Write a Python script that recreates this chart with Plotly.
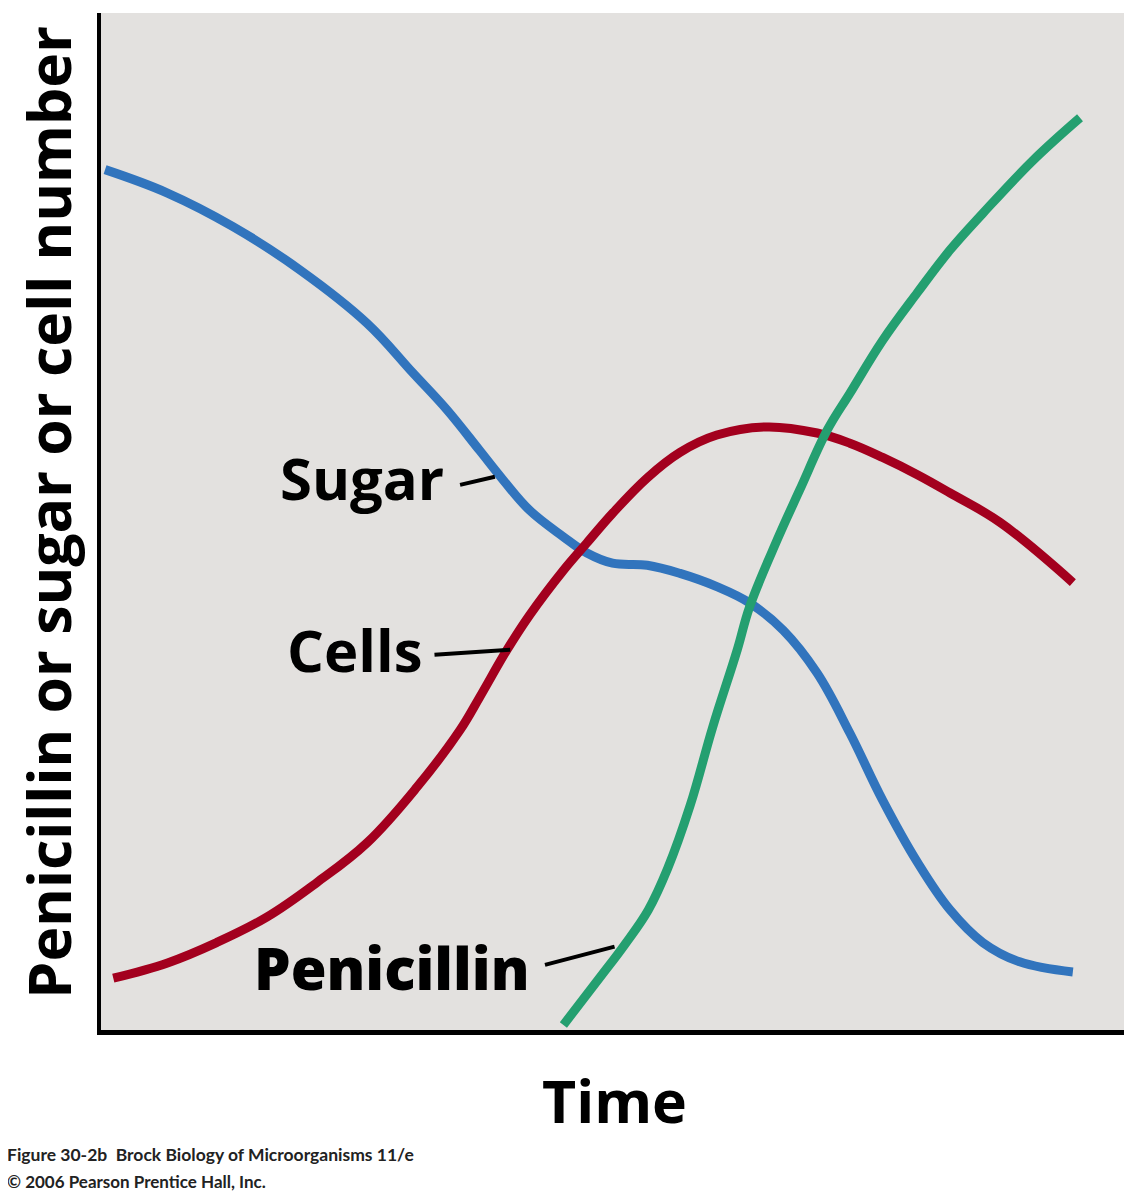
import plotly.graph_objects as go

# values (time and amount on 0-100 relative scales)
sugar_time = [0.4, 6.5, 12.9, 19.5, 26.0, 30.5, 33.8, 37.0, 39.3, 41.9, 45.2, 47.5, 50.0,
              53.4, 56.6, 60.2, 63.4, 66.7, 70.0, 73.2, 76.4, 79.8, 83.0, 86.2, 89.8, 95.0]
sugar_amount = [84.6, 82.3, 79.0, 74.7, 69.5, 64.6, 61.0, 57.0, 54.1, 51.1, 48.5, 46.9, 45.9,
                45.7, 44.9, 43.6, 42.0, 39.3, 35.1, 29.2, 22.6, 16.5, 11.8, 8.6, 6.7, 5.7]

cells_time = [1.2, 6.5, 11.3, 16.2, 21.1, 26.0, 30.9, 35.1, 37.0, 39.7, 41.9, 45.2, 47.5,
              50.0, 53.4, 56.6, 60.2, 65.1, 70.0, 73.2, 76.4, 79.8, 83.0, 87.9, 95.0]
cells_amount = [5.1, 6.6, 8.6, 11.1, 14.5, 18.4, 23.9, 29.5, 32.7, 37.4, 40.8, 45.2, 47.9,
                50.8, 54.3, 56.8, 58.5, 59.3, 58.7, 57.7, 56.3, 54.6, 52.8, 49.9, 44.0]

penicillin_time = [45.2, 48.8, 51.2, 53.5, 55.4, 57.6, 59.8, 62.2, 63.4, 66.1, 68.3,
                   71.0, 73.2, 76.4, 79.8, 83.0, 86.2, 91.1, 95.7]
penicillin_amount = [0.5, 5.2, 8.4, 11.8, 15.9, 22.1, 29.8, 37.4, 41.6, 48.2, 53.1,
                     59.0, 62.6, 67.8, 72.5, 76.7, 80.3, 85.5, 89.7]

# curve labels: text, label centre, leader line start/end
label_names = ["Sugar", "Cells", "Penicillin"]
label_pos = [(25.5, 54.3), (24.8, 37.4), (28.4, 6.1)]
leader_from = [(35.1, 53.6), (32.6, 36.9), (43.4, 6.4)]
leader_to = [(38.5, 54.4), (40.0, 37.4), (50.2, 8.2)]

BG = "#e3e1df"
BLUE = "#3174bd"
RED = "#a3001e"
GREEN = "#249f70"
FONT = "Open Sans"

fig = go.Figure()
for xs, ys, color, name in [
    (sugar_time, sugar_amount, BLUE, "Sugar"),
    (cells_time, cells_amount, RED, "Cells"),
    (penicillin_time, penicillin_amount, GREEN, "Penicillin"),
]:
    fig.add_trace(go.Scatter(
        x=xs, y=ys, mode="lines", name=name,
        line=dict(color=color, width=9, shape="spline", smoothing=1.1),
        hoverinfo="skip",
    ))

for name, (lx, ly), (x0, y0), (x1, y1) in zip(label_names, label_pos, leader_from, leader_to):
    fig.add_shape(type="line", x0=x0, y0=y0, x1=x1, y1=y1,
                  line=dict(color="black", width=4))
    fig.add_annotation(
        x=lx, y=ly, text=name, showarrow=False, xanchor="center", yanchor="middle",
        font=dict(family=FONT, size=58, color="black",
                  weight=800 if name == "Penicillin" else 700),
    )

# axis titles and credit line, placed in paper units around the plot area
fig.add_annotation(
    xref="paper", yref="paper", x=-0.0515, y=0.509, xanchor="center", yanchor="middle",
    text="Penicillin or sugar or cell number", textangle=-90, showarrow=False,
    font=dict(family=FONT, size=59, color="black", weight=700),
)
fig.add_annotation(
    xref="paper", yref="paper", x=0.502, y=-0.069, xanchor="center", yanchor="middle",
    text="Time", showarrow=False,
    font=dict(family=FONT, size=59, color="black", weight=700),
)
fig.add_annotation(
    xref="paper", yref="paper", x=-0.094, y=-0.1229, xanchor="left", yanchor="middle",
    text="<b>Figure 30-2b  Brock Biology of Microorganisms 11/e</b>", showarrow=False,
    font=dict(family="Lato", size=17.5, color="#222"),
)
fig.add_annotation(
    xref="paper", yref="paper", x=-0.094, y=-0.1485, xanchor="left", yanchor="middle",
    text="<b>© 2006 Pearson Prentice Hall, Inc.</b>", showarrow=False,
    font=dict(family="Lato", size=17, color="#222"),
)

# page body keeps its 8px default margin, so the figure is sized to fit inside it
fig.update_layout(
    width=1124, height=1184,
    margin=dict(l=93, r=8, t=5, b=162),
    paper_bgcolor="white",
    plot_bgcolor=BG,
    showlegend=False,
    xaxis=dict(range=[0, 100], showgrid=False, zeroline=False, showticklabels=False,
               ticks="", showline=True, linecolor="black", linewidth=5),
    yaxis=dict(range=[0, 100], showgrid=False, zeroline=False, showticklabels=False,
               ticks="", showline=True, linecolor="black", linewidth=4),
)

fig.write_html("out.html")
